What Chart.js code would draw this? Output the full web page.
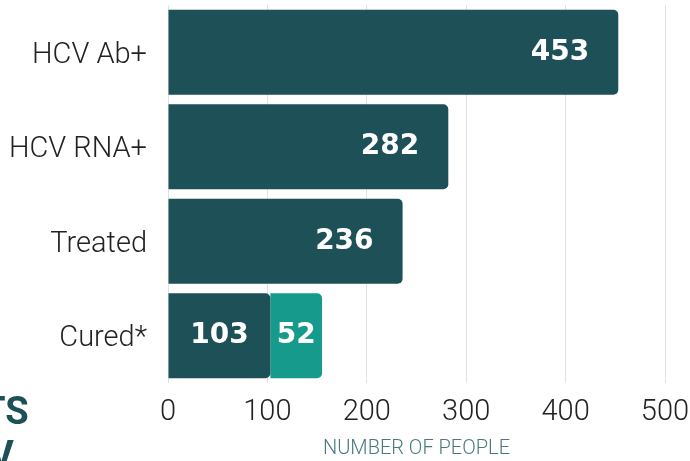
<!DOCTYPE html>
<html>
<head>
<meta charset="utf-8">
<script src="https://cdn.jsdelivr.net/npm/chart.js@4.4.1/dist/chart.umd.min.js"></script>
<style>
    html, body { margin: 0; padding: 0; background: #fff; overflow: hidden; }
    #wrap { position: relative; width: 690px; height: 461px; }
    canvas { display: block; }
    .side { position: absolute; color: #1e5057; font-family: Roboto, sans-serif; font-weight: 700; font-size: 38px; line-height: 1; white-space: nowrap; }
</style>
</head>
<body>
<div id="wrap">
    <canvas id="cascadeChart" width="690" height="461"></canvas>
    <div class="side" style="left:-18px; top:392px;">TS</div>
    <div class="side" style="left:-11px; top:436px;">V</div>
</div>
<script>
// Chart data
const categories = ['HCV Ab+', 'HCV RNA+', 'Treated', 'Cured*'];
const mainValues = [453, 282, 236, 103];
const extraValues = [null, null, null, 52];
const xTicks = [0, 100, 200, 300, 400, 500];

const darkTeal = '#1e5057';
const lightTeal = '#159a8c';

// Draw the white value labels inside the bars
const barLabels = {
    id: 'barLabels',
    afterDatasetsDraw(chart) {
        const ctx = chart.ctx;
        ctx.save();
        ctx.fillStyle = '#ffffff';
        ctx.font = 'bold 28px "DejaVu Sans", sans-serif';
        ctx.textBaseline = 'middle';
        const mainMeta = chart.getDatasetMeta(0);
        const extraMeta = chart.getDatasetMeta(1);
        mainMeta.data.forEach((bar, i) => {
            const hasExtra = extraValues[i] != null;
            if (hasExtra) {
                ctx.textAlign = 'center';
                ctx.fillText(String(mainValues[i]), (bar.base + bar.x) / 2, bar.y);
                const eb = extraMeta.data[i];
                ctx.fillText(String(extraValues[i]), (eb.base + eb.x) / 2, eb.y);
            } else {
                ctx.textAlign = 'right';
                ctx.fillText(String(mainValues[i]), bar.x - 29, bar.y);
            }
        });
        ctx.restore();
    }
};

document.addEventListener('DOMContentLoaded', function() {
    const ctx = document.getElementById('cascadeChart').getContext('2d');

    new Chart(ctx, {
        type: 'bar',
        data: {
            labels: categories,
            datasets: [{
                data: mainValues,
                backgroundColor: darkTeal,
                borderRadius: { topLeft: 0, bottomLeft: 0, topRight: 5, bottomRight: 5 },
                borderSkipped: false,
                barPercentage: 0.9,
                categoryPercentage: 1
            }, {
                data: extraValues,
                backgroundColor: lightTeal,
                borderRadius: { topLeft: 0, bottomLeft: 0, topRight: 5, bottomRight: 5 },
                borderSkipped: false,
                barPercentage: 0.9,
                categoryPercentage: 1
            }]
        },
        options: {
            indexAxis: 'y',
            responsive: false,
            animation: false,
            layout: { padding: { top: 5, right: 25, left: 0, bottom: 2 } },
            scales: {
                x: {
                    stacked: true,
                    min: 0,
                    max: 500,
                    afterBuildTicks: function(scale) {
                        scale.ticks = xTicks.map(v => ({ value: v }));
                    },
                    afterFit: function(scale) {
                        scale.paddingLeft = 0;
                        scale.paddingRight = 0;
                        scale.height = 76;
                    },
                    grid: { color: '#e2e2e2', drawTicks: false, lineWidth: 1 },
                    border: { display: false },
                    ticks: {
                        color: '#222',
                        font: { family: 'Roboto', size: 29, weight: '300' },
                        padding: 12
                    },
                    title: {
                        display: true,
                        text: 'NUMBER OF PEOPLE',
                        color: '#4a7a80',
                        font: { family: 'Roboto', size: 20, weight: '300', lineHeight: 1 },
                        padding: { top: 0, bottom: 0 }
                    }
                },
                y: {
                    stacked: true,
                    grid: { display: false, drawTicks: false },
                    border: { display: false },
                    ticks: {
                        color: '#222',
                        font: { family: 'Roboto', size: 29, weight: '300' },
                        padding: 21,
                        labelOffset: 3
                    },
                    afterFit: function(scale) {
                        scale.width = 168;
                        scale.paddingTop = 0;
                        scale.paddingBottom = 0;
                    }
                }
            },
            plugins: {
                legend: { display: false },
                tooltip: { enabled: false }
            }
        },
        plugins: [barLabels]
    });
});
</script>
</body>
</html>
